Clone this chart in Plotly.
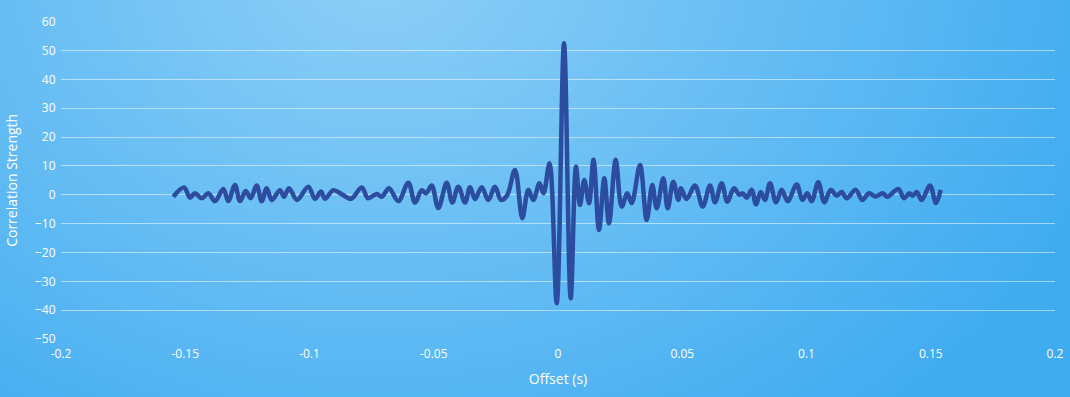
import numpy as np
import plotly.graph_objects as go

# Correlation curve (offset in seconds, strength)
offset_s = [
    -0.15481, -0.15050, -0.14809, -0.14608, -0.14338, -0.14072, -0.13803, -0.13469,
    -0.13268, -0.12998, -0.12797, -0.12567, -0.12366, -0.12125, -0.11924, -0.11722,
    -0.11521, -0.11187, -0.11026, -0.10825, -0.10503, -0.10048, -0.09779, -0.09537,
    -0.09376, -0.09042, -0.08704, -0.08330, -0.07899, -0.07646, -0.07296, -0.07095,
    -0.06801, -0.06427, -0.06024, -0.05755, -0.05485, -0.05312, -0.05082, -0.04817,
    -0.04479, -0.04254, -0.04012, -0.03742, -0.03541, -0.03340, -0.03070, -0.02805,
    -0.02535, -0.02294, -0.02052, -0.01730, -0.01437, -0.01195, -0.00994, -0.00744,
    -0.00584, -0.00342, -0.00052, 0.00241, 0.00511, 0.00724, 0.00885, 0.01058,
    0.01247, 0.01429, 0.01650, 0.01863, 0.02052, 0.02322, 0.02563, 0.02789,
    0.02966, 0.03300, 0.03569, 0.03795, 0.03972, 0.04237, 0.04414, 0.04640,
    0.04841, 0.04950, 0.05171, 0.05513, 0.05823, 0.06117, 0.06318, 0.06588,
    0.06813, 0.07082, 0.07296, 0.07433, 0.07594, 0.07795, 0.07968, 0.08157,
    0.08330, 0.08531, 0.08773, 0.09002, 0.09243, 0.09606, 0.09831, 0.10032,
    0.10209, 0.10475, 0.10716, 0.10974, 0.11215, 0.11416, 0.11618, 0.11980,
    0.12245, 0.12515, 0.12777, 0.13066, 0.13252, 0.13694, 0.13924, 0.14137,
    0.14274, 0.14435, 0.14636, 0.14970, 0.15211, 0.15400,
]
strength = [
    -0.7, 2.5, -1.0, 0.5, -1.2, 0.5, -2.2, 2.0,
    -2.2, 3.4, -2.2, 1.3, -1.2, 3.2, -2.2, 2.3,
    -1.8, 1.6, -0.7, 2.3, -1.8, 2.8, -1.4, 1.1,
    -1.4, 1.6, 0.2, -1.4, 2.5, -1.2, 0.3, -0.7,
    2.3, -2.2, 4.2, -2.7, 1.6, 0.5, 3.2, -4.6,
    4.2, -2.7, 2.8, -2.7, 2.6, -1.5, 2.6, -1.8,
    2.8, -1.8, -0.3, 8.6, -8.1, 1.7, -1.8, 4.0,
    0.5, 10.9, -37.6, 52.5, -35.9, 9.7, -3.5, 5.1,
    -2.9, 12.1, -12.2, 5.7, -9.9, 12.1, -4.1, 0.5,
    -2.9, 10.3, -8.7, 3.4, -4.7, 5.7, -4.7, 4.5,
    -1.8, 2.3, -1.5, 3.2, -4.1, 3.2, -2.6, 4.0,
    -2.4, 2.3, 0.0, 0.5, -1.0, 1.7, -3.3, 1.0,
    -1.8, 4.0, -2.6, 1.7, -2.2, 3.6, -1.8, 0.5,
    -2.2, 4.3, -2.6, 1.7, -0.3, 1.0, -1.2, 1.7,
    -1.8, 0.5, -0.6, 0.5, -0.7, 2.0, -1.2, 0.5,
    -0.3, 1.0, -1.8, 3.2, -2.9, 1.7,
]

x_ticks = [-0.2, -0.15, -0.1, -0.05, 0, 0.05, 0.1, 0.15, 0.2]
x_tick_text = ["-0.2", "-0.15", "-0.1", "-0.05", "0", "0.05", "0.1", "0.15", "0.2"]
y_ticks = [-50, -40, -30, -20, -10, 0, 10, 20, 30, 40, 50, 60]

W, H = 1070, 397
L, R, T, B = 61, 1055, 21.7, 339

# background gradient (style only)
gx = np.linspace(-20, W + 20, 64)
gy = np.linspace(-20, H + 20, 28)
GX, GY = np.meshgrid(gx, gy)
t = np.clip(np.hypot(GX - 380, (GY + 30) * 1.3) / 760, 0, 1)

fig = go.Figure()
fig.add_trace(go.Heatmap(
    x=gx, y=gy, z=t, zmin=0, zmax=1, zsmooth="best", showscale=False,
    colorscale=[[0, "rgb(142,207,247)"], [1, "rgb(64,172,240)"]],
    hoverinfo="skip", xaxis="x", yaxis="y",
))
fig.add_trace(go.Scatter(
    x=offset_s, y=strength, mode="lines", xaxis="x2", yaxis="y2",
    line=dict(color="#2b4c9f", width=4.5, shape="spline", smoothing=1),
    showlegend=False,
))

font = "Open Sans"
fig.update_layout(
    template="none",
    width=W, height=H, autosize=False,
    margin=dict(l=0, r=0, t=0, b=0, pad=0, autoexpand=False),
    paper_bgcolor="rgb(64,172,240)",
    plot_bgcolor="rgba(0,0,0,0)",
    showlegend=False,
    xaxis=dict(domain=[0, 1], range=[0, W], visible=False, fixedrange=True, automargin=False),
    yaxis=dict(domain=[0, 1], range=[H, 0], visible=False, fixedrange=True, automargin=False),
    xaxis2=dict(
        domain=[L / W, R / W], anchor="y2", range=[-0.2, 0.2], automargin=False,
        tickvals=x_ticks, ticktext=x_tick_text, showgrid=False, zeroline=False,
        showline=False, ticks="outside", ticklen=4, tickcolor="rgba(0,0,0,0)",
        tickfont=dict(family=font, size=12, color="white", weight=500),
        title=dict(text="Offset (s)", font=dict(family=font, size=14, color="white", weight=500), standoff=12),
    ),
    yaxis2=dict(
        domain=[(H - B) / H, (H - T) / H], anchor="x2", range=[-50, 60], automargin=False,
        tickvals=y_ticks, showgrid=True, gridcolor="rgba(255,255,255,0.5)", gridwidth=1,
        zeroline=False, showline=False, ticks="outside", ticklen=2, tickcolor="rgba(0,0,0,0)",
        tickfont=dict(family=font, size=12, color="white", weight=500),
        title=dict(text="Correlation Strength", font=dict(family=font, size=14, color="white", weight=500), standoff=14),
    ),
)

fig.write_html("out.html")
